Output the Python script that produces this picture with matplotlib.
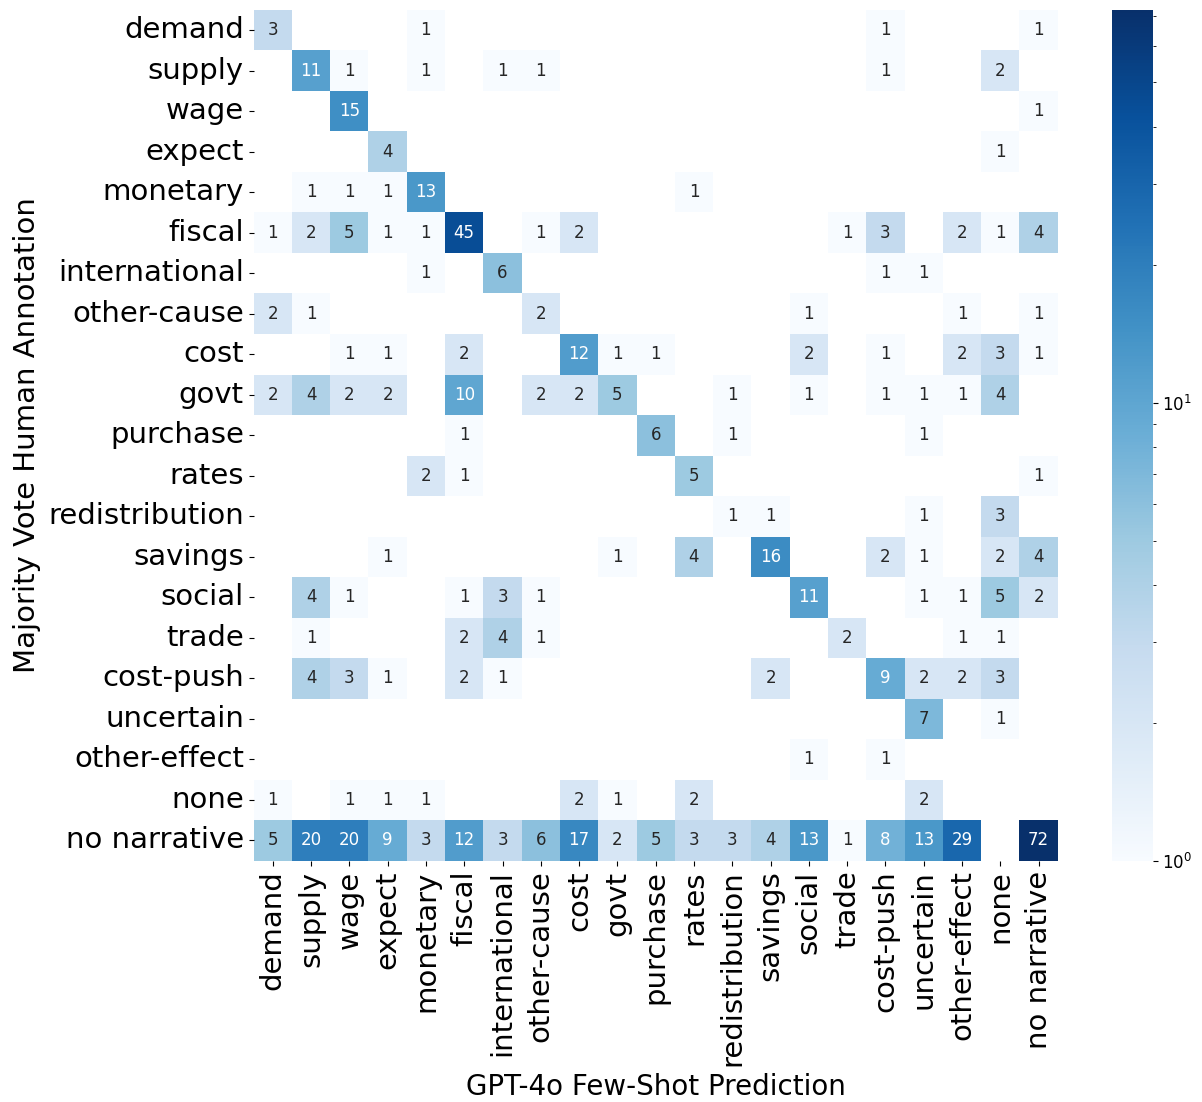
import numpy as np
import matplotlib
matplotlib.use('Agg')
import matplotlib.pyplot as plt
import seaborn as sns
from matplotlib.colors import LogNorm

labels = ['demand', 'supply', 'wage', 'expect', 'monetary', 'fiscal', 'international',
          'other-cause', 'cost', 'govt', 'purchase', 'rates', 'redistribution', 'savings',
          'social', 'trade', 'cost-push', 'uncertain', 'other-effect', 'none', 'no narrative']

# rows: human annotation, cols: GPT-4o prediction (0 = empty cell)
counts = [
    [3, 0, 0, 0, 1, 0, 0, 0, 0, 0, 0, 0, 0, 0, 0, 0, 1, 0, 0, 0, 1],
    [0, 11, 1, 0, 1, 0, 1, 1, 0, 0, 0, 0, 0, 0, 0, 0, 1, 0, 0, 2, 0],
    [0, 0, 15, 0, 0, 0, 0, 0, 0, 0, 0, 0, 0, 0, 0, 0, 0, 0, 0, 0, 1],
    [0, 0, 0, 4, 0, 0, 0, 0, 0, 0, 0, 0, 0, 0, 0, 0, 0, 0, 0, 1, 0],
    [0, 1, 1, 1, 13, 0, 0, 0, 0, 0, 0, 1, 0, 0, 0, 0, 0, 0, 0, 0, 0],
    [1, 2, 5, 1, 1, 45, 0, 1, 2, 0, 0, 0, 0, 0, 0, 1, 3, 0, 2, 1, 4],
    [0, 0, 0, 0, 1, 0, 6, 0, 0, 0, 0, 0, 0, 0, 0, 0, 1, 1, 0, 0, 0],
    [2, 1, 0, 0, 0, 0, 0, 2, 0, 0, 0, 0, 0, 0, 1, 0, 0, 0, 1, 0, 1],
    [0, 0, 1, 1, 0, 2, 0, 0, 12, 1, 1, 0, 0, 0, 2, 0, 1, 0, 2, 3, 1],
    [2, 4, 2, 2, 0, 10, 0, 2, 2, 5, 0, 0, 1, 0, 1, 0, 1, 1, 1, 4, 0],
    [0, 0, 0, 0, 0, 1, 0, 0, 0, 0, 6, 0, 1, 0, 0, 0, 0, 1, 0, 0, 0],
    [0, 0, 0, 0, 2, 1, 0, 0, 0, 0, 0, 5, 0, 0, 0, 0, 0, 0, 0, 0, 1],
    [0, 0, 0, 0, 0, 0, 0, 0, 0, 0, 0, 0, 1, 1, 0, 0, 0, 1, 0, 3, 0],
    [0, 0, 0, 1, 0, 0, 0, 0, 0, 1, 0, 4, 0, 16, 0, 0, 2, 1, 0, 2, 4],
    [0, 4, 1, 0, 0, 1, 3, 1, 0, 0, 0, 0, 0, 0, 11, 0, 0, 1, 1, 5, 2],
    [0, 1, 0, 0, 0, 2, 4, 1, 0, 0, 0, 0, 0, 0, 0, 2, 0, 0, 1, 1, 0],
    [0, 4, 3, 1, 0, 2, 1, 0, 0, 0, 0, 0, 0, 2, 0, 0, 9, 2, 2, 3, 0],
    [0, 0, 0, 0, 0, 0, 0, 0, 0, 0, 0, 0, 0, 0, 0, 0, 0, 7, 0, 1, 0],
    [0, 0, 0, 0, 0, 0, 0, 0, 0, 0, 0, 0, 0, 0, 1, 0, 1, 0, 0, 0, 0],
    [1, 0, 1, 1, 1, 0, 0, 0, 2, 1, 0, 2, 0, 0, 0, 0, 0, 2, 0, 0, 0],
    [5, 20, 20, 9, 3, 12, 3, 6, 17, 2, 5, 3, 3, 4, 13, 1, 8, 13, 29, 0, 72],
]

cm = np.array(counts)

fig = plt.figure(figsize=(12.02, 11.02), dpi=100)
ax = fig.add_axes([0.211, 0.219, 0.669, 0.772])
cax = fig.add_axes([0.925, 0.219, 0.034, 0.772])

sns.heatmap(cm, mask=(cm == 0), cmap='Blues', norm=LogNorm(vmin=1, vmax=cm.max()),
            annot=True, fmt='d', annot_kws={'fontsize': 12},
            xticklabels=labels, yticklabels=labels, ax=ax, cbar_ax=cax)

ax.set_xlabel('GPT-4o Few-Shot Prediction', fontsize=20, labelpad=5)
ax.set_ylabel('Majority Vote Human Annotation', fontsize=21, labelpad=5)
ax.tick_params(axis='x', labelsize=21, rotation=90)
ax.tick_params(axis='y', labelsize=21, rotation=0)
cax.tick_params(labelsize=12)

fig.savefig('out.png', dpi=100)
